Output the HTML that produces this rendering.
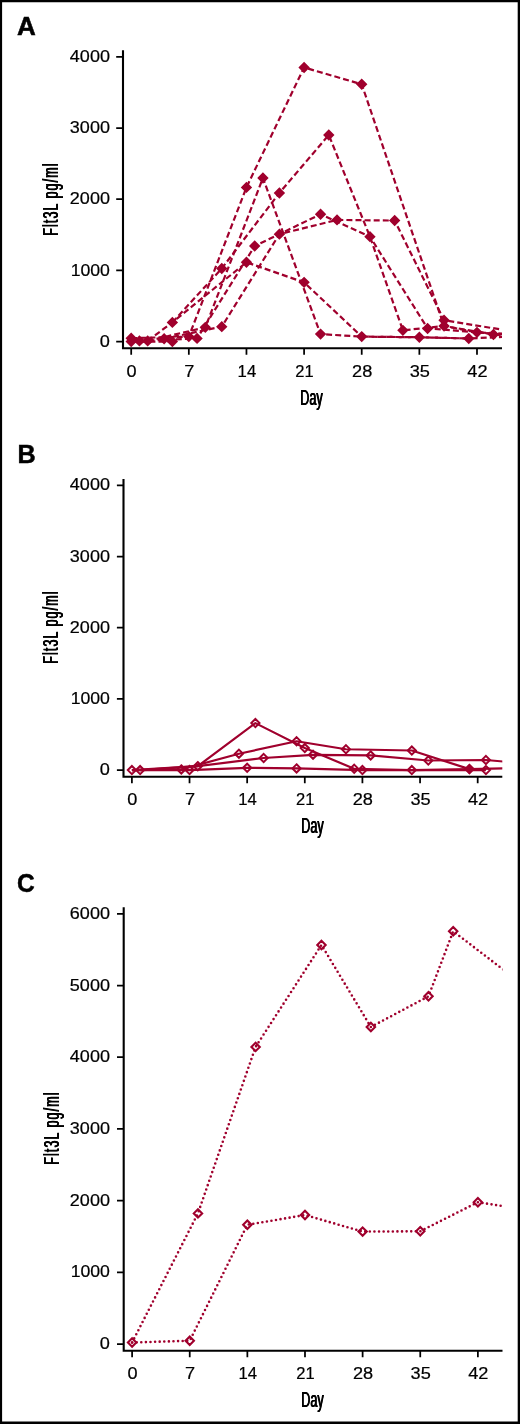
<!DOCTYPE html>
<html lang="en">
<head>
<meta charset="utf-8">
<title>Flt3L pg/ml by Day</title>
<style>
html,body{margin:0;padding:0;background:#fff;}
body{width:520px;height:1424px;overflow:hidden;position:relative;}
svg{display:block;}
text{font-family:"Liberation Sans",Arial,Helvetica,sans-serif;fill:#000;}
.tk{font-size:15.6px;stroke:#000;stroke-width:0.2px;}
.lb{position:absolute;font-family:"Liberation Sans",Arial,Helvetica,sans-serif;font-size:22px;line-height:24px;color:#000;white-space:nowrap;transform-origin:0 0;text-shadow:0.5px 0 0 #000,1.0px 0 0 #000;}
.lx{transform:scaleX(0.573);}
.ly{transform:rotate(-90deg) scaleX(0.573);letter-spacing:1.8px;}
.pl{font-size:25px;font-weight:bold;stroke:#000;stroke-width:0.5px;}
.ax{stroke:#000;fill:none;}
.ln{stroke:#a0002d;stroke-width:2.2;fill:none;stroke-linejoin:round;}
.mk{fill:#a0002d;}
.mo{fill:none;stroke:#a0002d;}
</style>
</head>
<body>
<svg width="520" height="1424" viewBox="0 0 520 1424">
<defs>
<clipPath id="clipA"><rect x="123" y="40.2" width="379" height="310.05"/></clipPath>
<clipPath id="clipB"><rect x="123.5" y="468.9" width="378.8" height="309.8"/></clipPath>
<clipPath id="clipC"><rect x="123.7" y="897.15" width="378.8" height="455.55"/></clipPath>
</defs>
<rect x="0" y="0" width="520" height="1424" fill="#fff"/>
<path d="M0 0H520V1424H0Z M2.1 2.25V1421.6H517.7V2.25Z" fill="#000" fill-rule="evenodd"/>
<g id="panelA">
<text class="pl" x="17" y="34.5" textLength="18.8" lengthAdjust="spacingAndGlyphs">A</text>
<path class="ax" stroke-width="2.1" d="M123 50.2V348.25H502"/>
<path class="ax" stroke-width="1.75" d="M116.2 341.6H123M116.2 270.4H123M116.2 199.2H123M116.2 128H123M116.2 56.8H123M131.2 348.25V354.75M188.83 348.25V354.75M246.46 348.25V354.75M304.09 348.25V354.75M361.72 348.25V354.75M419.36 348.25V354.75M476.99 348.25V354.75"/>
<text class="tk" x="109.95" y="346.75" text-anchor="end" textLength="10.1" lengthAdjust="spacingAndGlyphs">0</text>
<text class="tk" x="109.95" y="275.55" text-anchor="end" textLength="39.3" lengthAdjust="spacingAndGlyphs">1000</text>
<text class="tk" x="109.95" y="204.35" text-anchor="end" textLength="40.1" lengthAdjust="spacingAndGlyphs">2000</text>
<text class="tk" x="109.95" y="133.15" text-anchor="end" textLength="40.1" lengthAdjust="spacingAndGlyphs">3000</text>
<text class="tk" x="109.95" y="61.95" text-anchor="end" textLength="40.1" lengthAdjust="spacingAndGlyphs">4000</text>
<text class="tk" x="131.65" y="376.75" text-anchor="middle" textLength="10.1" lengthAdjust="spacingAndGlyphs">0</text>
<text class="tk" x="189.28" y="376.75" text-anchor="middle" textLength="10.1" lengthAdjust="spacingAndGlyphs">7</text>
<text class="tk" x="246.91" y="376.75" text-anchor="middle" textLength="18.6" lengthAdjust="spacingAndGlyphs">14</text>
<text class="tk" x="304.54" y="376.75" text-anchor="middle" textLength="18.4" lengthAdjust="spacingAndGlyphs">21</text>
<text class="tk" x="362.17" y="376.75" text-anchor="middle" textLength="20.2" lengthAdjust="spacingAndGlyphs">28</text>
<text class="tk" x="419.81" y="376.75" text-anchor="middle" textLength="20.2" lengthAdjust="spacingAndGlyphs">35</text>
<text class="tk" x="477.44" y="376.75" text-anchor="middle" textLength="20.2" lengthAdjust="spacingAndGlyphs">42</text>
<g clip-path="url(#clipA)">
<polyline class="ln" stroke-dasharray="6 3.1" points="131.2,338.18 188.83,336.62 246.46,187.38 304.09,67.48 361.72,84.28 444.05,326.01 476.99,332.34 534.62,337.33"/>
<polyline class="ln" stroke-dasharray="6 3.1" points="172.37,322.38 221.76,268.48 279.39,192.93 328.79,134.98 369.96,236.65 402.89,330.35 444.05,326.01 493.45,334.48 551.08,338.04"/>
<polyline class="ln" stroke-dasharray="6 3.1" points="147.67,340.89 205.3,327.36 262.93,177.98 320.56,334.12 361.72,336.62 419.36,337.26 468.75,338.47 526.38,335.9"/>
<polyline class="ln" stroke-dasharray="6 3.1" points="139.43,340.89 197.06,338.4 254.69,246.05 320.56,214.22 369.96,236.65 427.59,328.43 476.99,332.34 534.62,335.19"/>
<polyline class="ln" stroke-dasharray="6 3.1" points="164.13,338.75 221.76,326.65 279.39,234.16 337.02,219.92 394.66,220.56 444.05,320.24 509.92,330.92"/>
<polyline class="ln" stroke-dasharray="6 3.1" points="147.67,340.89 172.37,322.38 246.46,262.28 304.09,282.36 361.72,336.62 419.36,337.26 468.75,338.47"/>
<polyline class="ln" stroke-dasharray="6 3.1" points="131.2,341.6 172.37,341.6"/>
<path class="mk" d="M131.2 332.48L136.9 338.18L131.2 343.88L125.5 338.18ZM188.83 330.92L194.53 336.62L188.83 342.32L183.13 336.62ZM246.46 181.68L252.16 187.38L246.46 193.08L240.76 187.38ZM304.09 61.78L309.79 67.48L304.09 73.18L298.39 67.48ZM361.72 78.58L367.42 84.28L361.72 89.98L356.02 84.28ZM444.05 320.31L449.75 326.01L444.05 331.71L438.35 326.01ZM476.99 326.64L482.69 332.34L476.99 338.04L471.29 332.34ZM172.37 316.68L178.06 322.38L172.37 328.08L166.67 322.38ZM221.76 262.78L227.46 268.48L221.76 274.18L216.06 268.48ZM279.39 187.23L285.09 192.93L279.39 198.63L273.69 192.93ZM328.79 129.28L334.49 134.98L328.79 140.68L323.09 134.98ZM369.96 230.95L375.66 236.65L369.96 242.35L364.26 236.65ZM402.89 324.65L408.59 330.35L402.89 336.05L397.19 330.35ZM444.05 320.31L449.75 326.01L444.05 331.71L438.35 326.01ZM493.45 328.78L499.15 334.48L493.45 340.18L487.75 334.48ZM147.67 335.19L153.37 340.89L147.67 346.59L141.97 340.89ZM205.3 321.66L211 327.36L205.3 333.06L199.6 327.36ZM262.93 172.28L268.63 177.98L262.93 183.68L257.23 177.98ZM320.56 328.42L326.26 334.12L320.56 339.82L314.86 334.12ZM361.72 330.92L367.42 336.62L361.72 342.32L356.02 336.62ZM419.36 331.56L425.06 337.26L419.36 342.96L413.66 337.26ZM468.75 332.77L474.45 338.47L468.75 344.17L463.05 338.47ZM139.43 335.19L145.13 340.89L139.43 346.59L133.73 340.89ZM197.06 332.7L202.76 338.4L197.06 344.1L191.36 338.4ZM254.69 240.35L260.39 246.05L254.69 251.75L249 246.05ZM320.56 208.52L326.26 214.22L320.56 219.92L314.86 214.22ZM369.96 230.95L375.66 236.65L369.96 242.35L364.26 236.65ZM427.59 322.73L433.29 328.43L427.59 334.13L421.89 328.43ZM476.99 326.64L482.69 332.34L476.99 338.04L471.29 332.34ZM164.13 333.05L169.83 338.75L164.13 344.45L158.43 338.75ZM221.76 320.95L227.46 326.65L221.76 332.35L216.06 326.65ZM279.39 228.46L285.09 234.16L279.39 239.86L273.69 234.16ZM337.02 214.22L342.72 219.92L337.02 225.62L331.32 219.92ZM394.66 214.86L400.36 220.56L394.66 226.26L388.96 220.56ZM444.05 314.54L449.75 320.24L444.05 325.94L438.35 320.24ZM147.67 335.19L153.37 340.89L147.67 346.59L141.97 340.89ZM172.37 316.68L178.06 322.38L172.37 328.08L166.67 322.38ZM246.46 256.58L252.16 262.28L246.46 267.98L240.76 262.28ZM304.09 276.66L309.79 282.36L304.09 288.06L298.39 282.36ZM361.72 330.92L367.42 336.62L361.72 342.32L356.02 336.62ZM419.36 331.56L425.06 337.26L419.36 342.96L413.66 337.26ZM468.75 332.77L474.45 338.47L468.75 344.17L463.05 338.47ZM131.2 335.9L136.9 341.6L131.2 347.3L125.5 341.6ZM172.37 335.9L178.06 341.6L172.37 347.3L166.67 341.6Z"/>
</g>
</g>
<g id="panelB">
<text class="pl" x="17.4" y="462.55" textLength="18.2" lengthAdjust="spacingAndGlyphs">B</text>
<path class="ax" stroke-width="2.1" d="M123.5 478.9V776.7H502.3"/>
<path class="ax" stroke-width="1.75" d="M116.9 770.1H123.5M116.9 698.9H123.5M116.9 627.7H123.5M116.9 556.5H123.5M116.9 485.3H123.5M131.9 776.7V783.2M189.53 776.7V783.2M247.16 776.7V783.2M304.79 776.7V783.2M362.42 776.7V783.2M420.06 776.7V783.2M477.69 776.7V783.2"/>
<text class="tk" x="109.95" y="775.25" text-anchor="end" textLength="10.1" lengthAdjust="spacingAndGlyphs">0</text>
<text class="tk" x="109.95" y="704.05" text-anchor="end" textLength="39.3" lengthAdjust="spacingAndGlyphs">1000</text>
<text class="tk" x="109.95" y="632.85" text-anchor="end" textLength="40.1" lengthAdjust="spacingAndGlyphs">2000</text>
<text class="tk" x="109.95" y="561.65" text-anchor="end" textLength="40.1" lengthAdjust="spacingAndGlyphs">3000</text>
<text class="tk" x="109.95" y="490.45" text-anchor="end" textLength="40.1" lengthAdjust="spacingAndGlyphs">4000</text>
<text class="tk" x="132.35" y="805.2" text-anchor="middle" textLength="10.1" lengthAdjust="spacingAndGlyphs">0</text>
<text class="tk" x="189.98" y="805.2" text-anchor="middle" textLength="10.1" lengthAdjust="spacingAndGlyphs">7</text>
<text class="tk" x="247.61" y="805.2" text-anchor="middle" textLength="18.6" lengthAdjust="spacingAndGlyphs">14</text>
<text class="tk" x="305.24" y="805.2" text-anchor="middle" textLength="18.4" lengthAdjust="spacingAndGlyphs">21</text>
<text class="tk" x="362.87" y="805.2" text-anchor="middle" textLength="20.2" lengthAdjust="spacingAndGlyphs">28</text>
<text class="tk" x="420.51" y="805.2" text-anchor="middle" textLength="20.2" lengthAdjust="spacingAndGlyphs">35</text>
<text class="tk" x="478.14" y="805.2" text-anchor="middle" textLength="20.2" lengthAdjust="spacingAndGlyphs">42</text>
<g clip-path="url(#clipB)">
<polyline class="ln" points="140.13,770.1 197.76,766.18 255.4,723.11 304.79,748.03 354.19,768.75 411.82,770.1 469.45,769.1"/>
<polyline class="ln" points="131.9,770.1 181.3,769.39 238.93,753.72 296.56,741.26 345.96,749.24 411.82,750.52 469.45,769.1 527.08,767.82"/>
<polyline class="ln" points="131.9,770.1 197.76,766.18 263.63,758 313.03,754.79 370.66,755.43 428.29,760.49 485.92,759.99 543.55,765.12"/>
<polyline class="ln" points="131.9,770.1 189.53,770.1 247.16,767.82 296.56,768.39 362.42,770.1 411.82,770.1 485.92,770.1"/>
<path class="mo" stroke-width="2.0" d="M140.13 766L144.23 770.1L140.13 774.2L136.03 770.1ZM197.76 762.08L201.86 766.18L197.76 770.28L193.66 766.18ZM255.4 719.01L259.5 723.11L255.4 727.21L251.3 723.11ZM304.79 743.93L308.89 748.03L304.79 752.13L300.69 748.03ZM354.19 764.65L358.29 768.75L354.19 772.85L350.09 768.75ZM411.82 766L415.92 770.1L411.82 774.2L407.72 770.1ZM469.45 765L473.55 769.1L469.45 773.2L465.35 769.1ZM131.9 766L136 770.1L131.9 774.2L127.8 770.1ZM181.3 765.29L185.4 769.39L181.3 773.49L177.2 769.39ZM238.93 749.62L243.03 753.72L238.93 757.82L234.83 753.72ZM296.56 737.16L300.66 741.26L296.56 745.36L292.46 741.26ZM345.96 745.14L350.06 749.24L345.96 753.34L341.86 749.24ZM411.82 746.42L415.92 750.52L411.82 754.62L407.72 750.52ZM469.45 765L473.55 769.1L469.45 773.2L465.35 769.1ZM131.9 766L136 770.1L131.9 774.2L127.8 770.1ZM197.76 762.08L201.86 766.18L197.76 770.28L193.66 766.18ZM263.63 753.9L267.73 758L263.63 762.1L259.53 758ZM313.03 750.69L317.13 754.79L313.03 758.89L308.93 754.79ZM370.66 751.33L374.76 755.43L370.66 759.53L366.56 755.43ZM428.29 756.39L432.39 760.49L428.29 764.59L424.19 760.49ZM485.92 755.89L490.02 759.99L485.92 764.09L481.82 759.99ZM131.9 766L136 770.1L131.9 774.2L127.8 770.1ZM189.53 766L193.63 770.1L189.53 774.2L185.43 770.1ZM247.16 763.72L251.26 767.82L247.16 771.92L243.06 767.82ZM296.56 764.29L300.66 768.39L296.56 772.49L292.46 768.39ZM362.42 766L366.52 770.1L362.42 774.2L358.32 770.1ZM411.82 766L415.92 770.1L411.82 774.2L407.72 770.1ZM485.92 766L490.02 770.1L485.92 774.2L481.82 770.1Z"/>
<path class="mk" d="M469.45 763.8L474.75 769.1L469.45 774.4L464.15 769.1Z"/>
</g>
</g>
<g id="panelC">
<text class="pl" x="17" y="891.7" textLength="17.7" lengthAdjust="spacingAndGlyphs">C</text>
<path class="ax" stroke-width="2.1" d="M123.7 907.15V1350.7H502.5"/>
<path class="ax" stroke-width="1.75" d="M117 1344H123.7M117 1272.31H123.7M117 1200.62H123.7M117 1128.93H123.7M117 1057.24H123.7M117 985.55H123.7M117 913.86H123.7M132.1 1350.7V1357.2M189.73 1350.7V1357.2M247.36 1350.7V1357.2M304.99 1350.7V1357.2M362.62 1350.7V1357.2M420.25 1350.7V1357.2M477.89 1350.7V1357.2"/>
<text class="tk" x="109.95" y="1349.15" text-anchor="end" textLength="10.1" lengthAdjust="spacingAndGlyphs">0</text>
<text class="tk" x="109.95" y="1277.46" text-anchor="end" textLength="39.3" lengthAdjust="spacingAndGlyphs">1000</text>
<text class="tk" x="109.95" y="1205.77" text-anchor="end" textLength="40.1" lengthAdjust="spacingAndGlyphs">2000</text>
<text class="tk" x="109.95" y="1134.08" text-anchor="end" textLength="40.1" lengthAdjust="spacingAndGlyphs">3000</text>
<text class="tk" x="109.95" y="1062.39" text-anchor="end" textLength="40.1" lengthAdjust="spacingAndGlyphs">4000</text>
<text class="tk" x="109.95" y="990.7" text-anchor="end" textLength="40.1" lengthAdjust="spacingAndGlyphs">5000</text>
<text class="tk" x="109.95" y="919.01" text-anchor="end" textLength="40.1" lengthAdjust="spacingAndGlyphs">6000</text>
<text class="tk" x="132.55" y="1379.2" text-anchor="middle" textLength="10.1" lengthAdjust="spacingAndGlyphs">0</text>
<text class="tk" x="190.18" y="1379.2" text-anchor="middle" textLength="10.1" lengthAdjust="spacingAndGlyphs">7</text>
<text class="tk" x="247.81" y="1379.2" text-anchor="middle" textLength="18.6" lengthAdjust="spacingAndGlyphs">14</text>
<text class="tk" x="305.44" y="1379.2" text-anchor="middle" textLength="18.4" lengthAdjust="spacingAndGlyphs">21</text>
<text class="tk" x="363.07" y="1379.2" text-anchor="middle" textLength="20.2" lengthAdjust="spacingAndGlyphs">28</text>
<text class="tk" x="420.7" y="1379.2" text-anchor="middle" textLength="20.2" lengthAdjust="spacingAndGlyphs">35</text>
<text class="tk" x="478.34" y="1379.2" text-anchor="middle" textLength="20.2" lengthAdjust="spacingAndGlyphs">42</text>
<g clip-path="url(#clipC)">
<polyline class="ln" stroke-dasharray="0 4.6" stroke-linecap="round" style="stroke-width:2.6" points="132.1,1342.49 197.96,1213.38 255.59,1046.92 321.46,944.97 370.86,1026.99 428.49,996.3 453.19,931.28 510.82,975.37"/>
<polyline class="ln" stroke-dasharray="0 4.6" stroke-linecap="round" style="stroke-width:2.6" points="132.1,1342.49 189.73,1340.77 247.36,1224.78 304.99,1215.03 362.62,1231.59 420.25,1231.3 477.89,1202.2 535.52,1211.37"/>
<path class="mo" stroke-width="2.1" d="M132.1 1338.29L136.3 1342.49L132.1 1346.69L127.9 1342.49ZM197.96 1209.18L202.16 1213.38L197.96 1217.58L193.76 1213.38ZM255.59 1042.72L259.8 1046.92L255.59 1051.12L251.4 1046.92ZM321.46 940.77L325.66 944.97L321.46 949.17L317.26 944.97ZM370.86 1022.79L375.06 1026.99L370.86 1031.19L366.66 1026.99ZM428.49 992.1L432.69 996.3L428.49 1000.5L424.29 996.3ZM453.19 927.08L457.39 931.28L453.19 935.48L448.99 931.28ZM132.1 1338.29L136.3 1342.49L132.1 1346.69L127.9 1342.49ZM189.73 1336.57L193.93 1340.77L189.73 1344.97L185.53 1340.77ZM247.36 1220.58L251.56 1224.78L247.36 1228.98L243.16 1224.78ZM304.99 1210.83L309.19 1215.03L304.99 1219.23L300.79 1215.03ZM362.62 1227.39L366.82 1231.59L362.62 1235.79L358.42 1231.59ZM420.25 1227.1L424.45 1231.3L420.25 1235.5L416.06 1231.3ZM477.89 1198L482.09 1202.2L477.89 1206.4L473.69 1202.2Z"/>
</g>
</g>
</svg>
<div class="lb lx" style="left:300.25px;top:385.95px">Day</div>
<div class="lb ly" style="left:39.13px;top:235.93px">Flt3L pg/ml</div>
<div class="lb lx" style="left:300.65px;top:814.4px">Day</div>
<div class="lb ly" style="left:39.13px;top:664px">Flt3L pg/ml</div>
<div class="lb lx" style="left:301.25px;top:1388.4px">Day</div>
<div class="lb ly" style="left:39.53px;top:1165.42px">Flt3L pg/ml</div>
</body>
</html>
